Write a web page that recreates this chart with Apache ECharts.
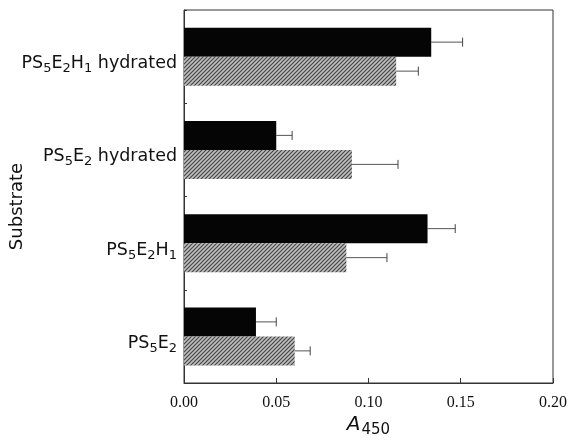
<!DOCTYPE html>
<html>
<head>
<meta charset="utf-8">
<script src="https://cdn.jsdelivr.net/npm/echarts@6/dist/echarts.min.js"></script>
<style>
  * { margin: 0; padding: 0; }
  html, body { width: 575px; height: 441px; background: #fff; overflow: hidden; }
  #chart { width: 575px; height: 441px; }
</style>
</head>
<body>
<div id="chart"></div>
<script>
  // bottom to top, as the category axis counts
  const categories = ['PS5E2', 'PS5E2H1', 'PS5E2 hydrated', 'PS5E2H1 hydrated'];
  const catLabels = [
    'PS{s|5}E{s|2}',
    'PS{s|5}E{s|2}H{s|1}',
    'PS{s|5}E{s|2} hydrated',
    'PS{s|5}E{s|2}H{s|1} hydrated'
  ];
  const blackVals = [0.039, 0.132, 0.050, 0.134];
  const blackErr  = [0.011, 0.015, 0.0086, 0.017];
  const grayVals  = [0.060, 0.088, 0.091, 0.115];
  const grayErr   = [0.0084, 0.022, 0.025, 0.012];

  // hatched fill for the grey bars
  const pc = document.createElement('canvas');
  pc.width = 4; pc.height = 4;
  const g = pc.getContext('2d');
  g.fillStyle = '#c0c0c0';
  g.fillRect(0, 0, 4, 4);
  g.strokeStyle = '#444';
  g.lineWidth = 1.2;
  g.beginPath();
  g.moveTo(0, 4); g.lineTo(4, 0);
  g.moveTo(-1, 1); g.lineTo(1, -1);
  g.moveTo(3, 5); g.lineTo(5, 3);
  g.stroke();

  const chart = echarts.init(document.getElementById('chart'));

  function errSeries(vals, errs, offset) {
    return {
      type: 'custom',
      z: 1,
      data: vals.map((v, i) => [i, v, v + errs[i]]),
      renderItem: function (params, api) {
        const a = api.coord([api.value(1), api.value(0)]);
        const b = api.coord([api.value(2), api.value(0)]);
        const y = a[1] + offset;
        return {
          type: 'group',
          children: [
            { type: 'line', shape: { x1: a[0], y1: y, x2: b[0], y2: y },
              style: { stroke: '#555', lineWidth: 1 } },
            { type: 'line', shape: { x1: b[0], y1: y - 4.5, x2: b[0], y2: y + 4.5 },
              style: { stroke: '#444', lineWidth: 1 } }
          ]
        };
      }
    };
  }

  chart.setOption({
    animation: false,
    backgroundColor: '#fff',
    grid: {
      left: 184, right: 22, top: 10, bottom: 58,
      outerBoundsMode: 'none', containLabel: false,
      show: true, borderColor: '#333', borderWidth: 1
    },
    xAxis: {
      type: 'value',
      min: 0, max: 0.2, interval: 0.05,
      name: '{i|A}{s|450}',
      nameLocation: 'middle',
      nameGap: 28,
      nameMoveOverlap: false,
      nameTextStyle: {
        rich: {
          i: { fontFamily: 'DejaVu Sans', fontStyle: 'italic', fontSize: 20, color: '#111' },
          s: { fontFamily: 'DejaVu Sans', fontSize: 15, color: '#111', padding: [12, 0, 0, 1] }
        }
      },
      axisLine: { show: true, lineStyle: { color: '#333' } },
      axisTick: { show: true, inside: true, length: 5, lineStyle: { color: '#333' } },
      splitLine: { show: false },
      axisLabel: {
        margin: 12,
        fontFamily: 'Liberation Serif', fontSize: 16, color: '#111',
        formatter: v => v.toFixed(2)
      }
    },
    yAxis: {
      type: 'category',
      data: categories,
      name: 'Substrate',
      nameLocation: 'middle',
      nameGap: 158,
      nameMoveOverlap: false,
      nameRotate: 90,
      nameTextStyle: { fontFamily: 'DejaVu Sans', fontSize: 18, color: '#111', padding: [0, 20, 0, 0] },
      axisLine: { show: true, lineStyle: { color: '#333' } },
      axisTick: { show: true, inside: true, length: 3, lineStyle: { color: '#333' } },
      axisLabel: {
        margin: 7,
        padding: [14, 0, 0, 0],
        formatter: (v, i) => catLabels[i],
        rich: {
          s: { fontFamily: 'DejaVu Sans', fontSize: 13, color: '#111', padding: [10, 0, 0, 0] }
        },
        fontFamily: 'DejaVu Sans', fontSize: 17.5, color: '#111'
      }
    },
    series: [
      {
        type: 'bar',
        data: blackVals,
        barWidth: 29,
        barGap: '0%',
        itemStyle: { color: '#050505' }
      },
      {
        type: 'bar',
        data: grayVals,
        barWidth: 29,
        barGap: '0%',
        itemStyle: { color: { image: pc, repeat: 'repeat' } }
      },
      errSeries(blackVals, blackErr, -14.5),
      errSeries(grayVals, grayErr, 14.5)
    ]
  });
</script>
</body>
</html>
